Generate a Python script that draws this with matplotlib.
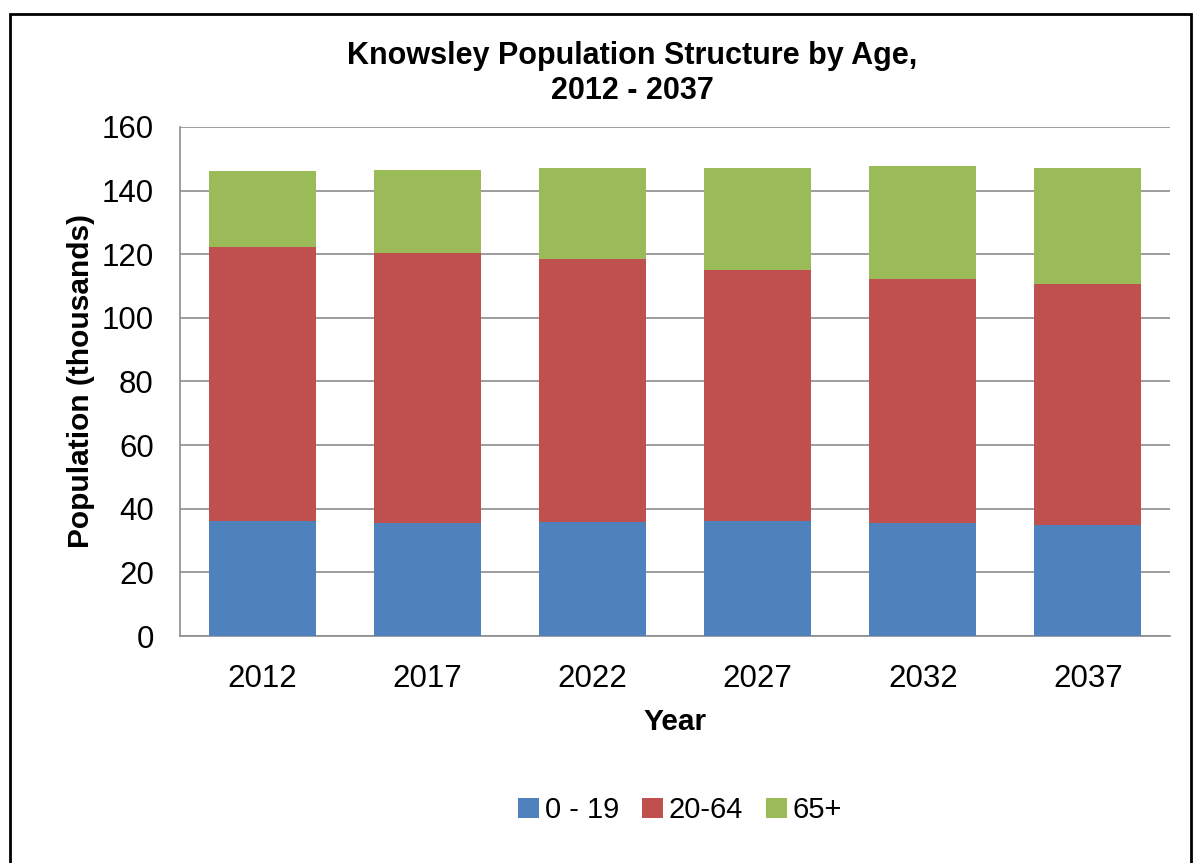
import matplotlib
matplotlib.use("Agg")
import matplotlib.pyplot as plt
from matplotlib.patches import Rectangle

plt.rcParams['font.family'] = ['Liberation Sans', 'DejaVu Sans']

# Data (thousands)
years = ['2012', '2017', '2022', '2027', '2032', '2037']
age_0_19 = [36.3, 35.4, 35.7, 36.2, 35.4, 34.8]
age_20_64 = [85.8, 85.1, 82.7, 78.9, 76.7, 75.8]
age_65_plus = [24.0, 26.1, 28.7, 32.0, 35.5, 36.5]

colors = ['#4F81BD', '#C0504D', '#9BBB59']

fig = plt.figure(figsize=(11.93, 8.63), dpi=100)
ax = fig.add_axes([0.151, 0.263, 0.830, 0.590])

x = range(len(years))
bottom2 = [a for a in age_0_19]
bottom3 = [a + b for a, b in zip(age_0_19, age_20_64)]
ax.bar(x, age_0_19, width=0.65, color=colors[0], label='0 - 19', zorder=3)
ax.bar(x, age_20_64, width=0.65, bottom=bottom2, color=colors[1], label='20-64', zorder=3)
ax.bar(x, age_65_plus, width=0.65, bottom=bottom3, color=colors[2], label='65+', zorder=3)

ax.set_xlim(-0.5, len(years) - 0.5)
ax.set_ylim(0, 160)
ax.set_yticks(range(0, 161, 20))
ax.set_xticks(list(x))
ax.set_xticklabels(years)
ax.tick_params(axis='both', labelsize=22.5, length=0)
ax.tick_params(axis='x', pad=20)
ax.tick_params(axis='y', pad=19)
ax.grid(axis='y', color='#8c8c8c', linewidth=1.2, zorder=0)

for side in ['top', 'right']:
    ax.spines[side].set_visible(False)
for side in ['left', 'bottom']:
    ax.spines[side].set_color('#8c8c8c')
    ax.spines[side].set_linewidth(1.2)

ax.set_xlabel('Year', fontsize=21.5, fontweight='bold', labelpad=10)
ax.set_ylabel('Population (thousands)', fontsize=21.5, fontweight='bold', labelpad=5)

fig.text(0.53, 0.915, 'Knowsley Population Structure by Age,\n2012 - 2037',
         ha='center', va='center', fontsize=22, fontweight='bold', linespacing=1.2)

fig.legend(loc='center', bbox_to_anchor=(0.57, 0.061), ncol=3, frameon=False,
           fontsize=21, handlelength=0.7, handleheight=0.7, handletextpad=0.2,
           columnspacing=0.8)

# black frame around the chart
fig.patches.append(Rectangle((0.008, -0.01), 0.99, 0.994, transform=fig.transFigure,
                             fill=False, edgecolor='black', linewidth=2))

fig.savefig('out.png', dpi=100)
